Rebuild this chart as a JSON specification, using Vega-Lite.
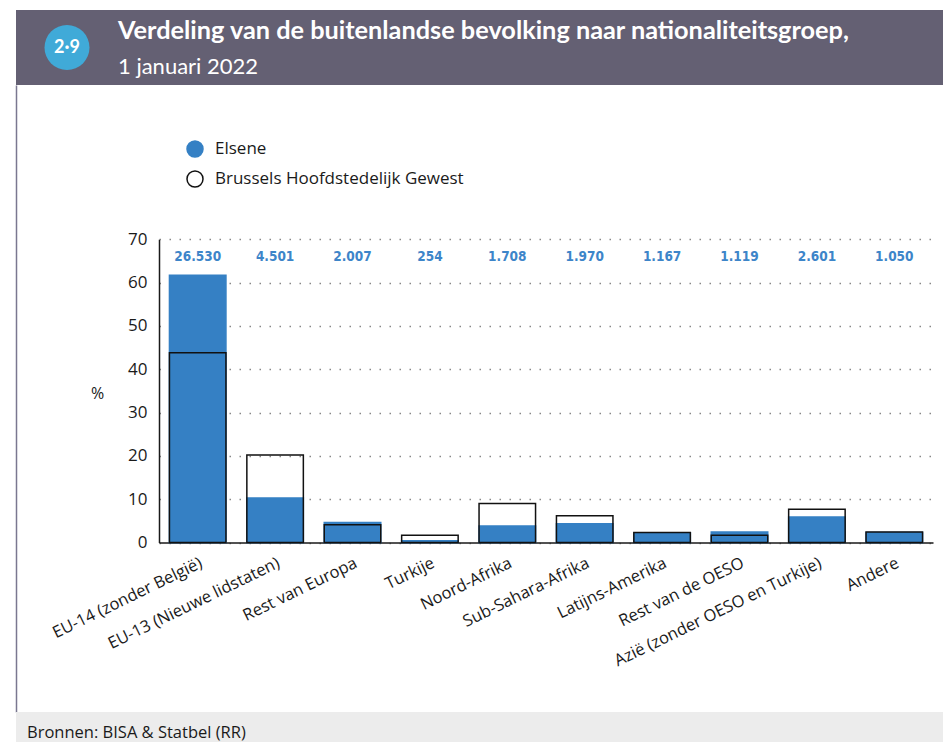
{
  "$schema": "https://vega.github.io/schema/vega-lite/v6.json",
  "padding": {"left": 16, "top": 10, "right": 0, "bottom": 0},
  "autosize": {"type": "pad"},
  "background": "white",
  "config": {
    "view": {"stroke": null},
    "font": "Open Sans",
    "locale": {"number": {"decimal": ",", "thousands": ".", "grouping": [3], "currency": ["€", ""]}}
  },
  "spacing": 0,
  "vconcat": [
    {
      "spacing": 0,
      "hconcat": [
        {
          "width": 102,
          "height": 75,
          "view": {"fill": "#646073", "stroke": null},
          "data": {"values": [{"nummer": "2·9"}]},
          "layer": [
            {"mark": {"type": "point", "filled": true, "color": "#40AAD8", "size": 2025, "opacity": 1}, "encoding": {}},
            {"mark": {"type": "text", "color": "white", "fontSize": 18, "fontWeight": "bold", "font": "Lato", "baseline": "middle"}, "encoding": {"text": {"field": "nummer"}}}
          ]
        },
        {
          "width": 825,
          "height": 75,
          "view": {"fill": "#646073", "stroke": null},
          "title": {
            "text": "Verdeling van de buitenlandse bevolking naar nationaliteitsgroep,",
            "subtitle": "1 januari 2022",
            "orient": "bottom",
            "anchor": "start",
            "frame": "group",
            "offset": -66,
            "color": "white",
            "subtitleColor": "white",
            "font": "Lato",
            "fontSize": 25.3,
            "fontWeight": "bold",
            "subtitleFont": "Lato",
            "subtitleFontSize": 22,
            "subtitleFontWeight": "normal",
            "subtitlePadding": 13
          },
          "data": {"values": [{"leeg": 0}]},
          "mark": {"type": "point", "opacity": 0},
          "encoding": {}
        }
      ]
    },
    {
      "width": 927,
      "height": 627,
      "view": {"fill": "white", "stroke": null},
      "data": {
        "values": [
          {"groep": "EU-14 (zonder België)", "Elsene": 61.7, "Brussels Hoofdstedelijk Gewest": 43.8, "aantal": 26530},
          {"groep": "EU-13 (Nieuwe lidstaten)", "Elsene": 10.3, "Brussels Hoofdstedelijk Gewest": 20.2, "aantal": 4501},
          {"groep": "Rest van Europa", "Elsene": 4.6, "Brussels Hoofdstedelijk Gewest": 4.1, "aantal": 2007},
          {"groep": "Turkije", "Elsene": 0.4, "Brussels Hoofdstedelijk Gewest": 1.7, "aantal": 254},
          {"groep": "Noord-Afrika", "Elsene": 3.8, "Brussels Hoofdstedelijk Gewest": 9.0, "aantal": 1708},
          {"groep": "Sub-Sahara-Afrika", "Elsene": 4.3, "Brussels Hoofdstedelijk Gewest": 6.2, "aantal": 1970},
          {"groep": "Latijns-Amerika", "Elsene": 2.2, "Brussels Hoofdstedelijk Gewest": 2.3, "aantal": 1167},
          {"groep": "Rest van de OESO", "Elsene": 2.4, "Brussels Hoofdstedelijk Gewest": 1.7, "aantal": 1119},
          {"groep": "Azië (zonder OESO en Turkije)", "Elsene": 5.9, "Brussels Hoofdstedelijk Gewest": 7.7, "aantal": 2601},
          {"groep": "Andere", "Elsene": 2.3, "Brussels Hoofdstedelijk Gewest": 2.4, "aantal": 1050}
        ]
      },
      "layer": [
        {
          "layer": [
            {
              "transform": [{"fold": ["Elsene", "Brussels Hoofdstedelijk Gewest"], "as": ["regio", "pct"]}],
              "mark": {"type": "bar", "strokeWidth": 1.5},
              "encoding": {
                "x": {
                  "field": "groep",
                  "type": "nominal",
                  "sort": null,
                  "scale": {"range": [143, 917], "paddingInner": 0.27, "paddingOuter": 0.135},
                  "axis": {
                    "orient": "bottom",
                    "offset": -169.5,
                    "title": null,
                    "ticks": false,
                    "domainColor": "#1a1a1a",
                    "domainWidth": 1.5,
                    "labelAngle": -26,
                    "labelAlign": "right",
                    "labelBaseline": "top",
                    "labelPadding": 12,
                    "labelFontSize": 16.5,
                    "labelFont": "Open Sans",
                    "labelColor": "#1a1a1a",
                    "labelLimit": 0,
                    "labelOverlap": false
                  }
                },
                "y": {
                  "field": "pct",
                  "type": "quantitative",
                  "stack": null,
                  "scale": {"domain": [0, 70], "range": [457.5, 154.3], "nice": false},
                  "axis": {
                    "orient": "left",
                    "offset": -143,
                    "values": [0, 10, 20, 30, 40, 50, 60, 70],
                    "grid": true,
                    "gridDash": [1.5, 8.5],
                    "gridColor": "#888888",
                    "gridWidth": 1.5,
                    "gridOpacity": 1,
                    "domainColor": "#1a1a1a",
                    "domainWidth": 1.5,
                    "ticks": false,
                    "labelPadding": 12,
                    "labelFontSize": 17,
                    "labelFont": "Open Sans",
                    "labelColor": "#1a1a1a",
                    "title": "%",
                    "titleAngle": 0,
                    "titleX": -62,
                    "titleY": 308,
                    "titleAlign": "center",
                    "titleBaseline": "middle",
                    "titleFontSize": 16,
                    "titleFont": "Open Sans",
                    "titleFontWeight": "normal",
                    "titleColor": "#1a1a1a"
                  }
                },
                "fill": {
                  "field": "regio",
                  "type": "nominal",
                  "scale": {"domain": ["Elsene", "Brussels Hoofdstedelijk Gewest"], "range": ["#3580C4", "transparent"]},
                  "legend": {"title": null, "orient": "none", "legendX": 170, "legendY": 130, "symbolType": "circle", "symbolSize": 256, "symbolStrokeWidth": 1.5, "labelFontSize": 17, "labelFont": "Open Sans", "labelColor": "#1a1a1a", "labelLimit": 0, "rowPadding": 8, "labelOffset": 11, "padding": 0, "direction": "vertical"}
                },
                "stroke": {
                  "field": "regio",
                  "type": "nominal",
                  "scale": {"domain": ["Elsene", "Brussels Hoofdstedelijk Gewest"], "range": ["#3580C4", "#111111"]},
                  "legend": {"title": null, "orient": "none", "legendX": 170, "legendY": 130, "symbolType": "circle", "symbolSize": 256, "symbolStrokeWidth": 1.5, "labelFontSize": 17, "labelFont": "Open Sans", "labelColor": "#1a1a1a", "labelLimit": 0, "rowPadding": 8, "labelOffset": 11, "padding": 0, "direction": "vertical"}
                }
              }
            },
            {
              "mark": {"type": "text", "font": "DejaVu Sans Condensed", "fontWeight": "bold", "fontSize": 13.5, "color": "#3D85C9", "baseline": "middle"},
              "encoding": {
                "x": {"field": "groep", "type": "nominal", "sort": null},
                "y": {"datum": 66, "type": "quantitative"},
                "text": {"field": "aantal", "type": "quantitative", "format": ",d"}
              }
            }
          ]
        },
        {
          "mark": {"type": "point", "opacity": 0},
          "encoding": {
            "y": {
              "field": "Elsene",
              "type": "quantitative",
              "axis": {"orient": "left", "offset": 0, "labels": false, "ticks": false, "grid": false, "title": null, "domainColor": "#7A7790", "domainWidth": 1.5}
            }
          }
        }
      ],
      "resolve": {"scale": {"y": "independent"}, "axis": {"y": "independent"}}
    },
    {
      "width": 927,
      "height": 30,
      "view": {"fill": "#ECECEC", "stroke": null},
      "title": {
        "text": "Bronnen: BISA & Statbel (RR)",
        "orient": "bottom",
        "anchor": "start",
        "frame": "group",
        "offset": -17,
        "dx": 11,
        "fontSize": 16.5,
        "fontWeight": "normal",
        "font": "Open Sans",
        "color": "#1a1a1a"
      },
      "data": {"values": [{"leeg": 0}]},
      "mark": {"type": "point", "opacity": 0},
      "encoding": {}
    }
  ]
}
